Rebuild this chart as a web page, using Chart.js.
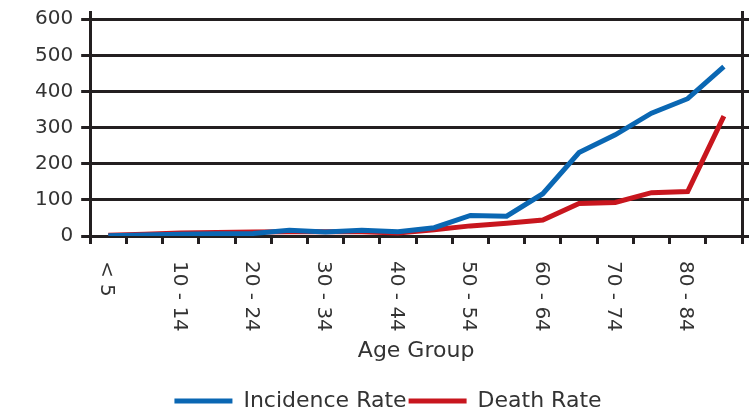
<!DOCTYPE html>
<html>
<head>
<meta charset="utf-8">
<script src="https://cdn.jsdelivr.net/npm/chart.js@4"></script>
<style>
  html, body { margin: 0; padding: 0; background: #fff; }
  #wrap { width: 756px; height: 414px; }
</style>
</head>
<body>
<div id="wrap"><canvas id="myChart"></canvas></div>
<script>
'use strict';

let ageGroups = ['< 5', '5 - 9', '10 - 14', '15 - 19', '20 - 24', '25 - 29', '30 - 34', '35 - 39', '40 - 44',
    '45 - 49', '50 - 54', '55 - 59', '60 - 64', '65 - 69', '70 - 74', '75 - 79', '80 - 84', '85+'];
let incidenceRate = [1, 3, 5, 6, 7, 16, 11, 16, 12, 23, 57, 55, 117, 231, 280, 340, 380, 469];
let deathRate = [2, 5, 8, 10, 11, 12, 12, 12, 8, 17, 28, 35, 44, 90, 93, 120, 123, 332];
let yTicks = [0, 100, 200, 300, 400, 500, 600];

let blue = '#0a67b3';
let red = '#c8161e';
let ink = '#231f20';
let font = 'DejaVu Sans';

// x labels are drawn clockwise (top to bottom), chart.js only turns them the other way
const downLabels = {
    id: 'downLabels',
    afterDraw(chart) {
        let sx = chart.scales.x;
        let ctx = chart.ctx;
        ctx.save();
        ctx.font = '20px "' + font + '"';
        ctx.fillStyle = '#333';
        ctx.textAlign = 'left';
        ctx.textBaseline = 'middle';
        for (let i = 0; i < sx.ticks.length; i++) {
            let text = sx.ticks[i].label;
            if (!text) continue;
            ctx.save();
            ctx.translate(sx.getPixelForTick(i) - 2, sx.top + 8 + 17);
            ctx.rotate(Math.PI / 2);
            ctx.fillText(text, 0, 0);
            ctx.restore();
        }
        ctx.restore();
    }
};

const data = {
    labels: ageGroups,
    datasets: [{
        label: 'Incidence Rate',
        data: incidenceRate,
        borderColor: blue,
        backgroundColor: blue,
        borderWidth: 5,
        pointRadius: 0,
        tension: 0
    }, {
        label: 'Death Rate',
        data: deathRate,
        borderColor: red,
        backgroundColor: red,
        borderWidth: 5,
        pointRadius: 0,
        tension: 0
    }]
};

const keepTicks = (scale) => {
    scale.ticks = yTicks.map(v => ({ value: v }));
};
const noTopPad = (scale) => {
    scale.paddingTop = 0;
};

const config = {
    type: 'line',
    data,
    options: {
        responsive: true,
        maintainAspectRatio: false,
        animation: false,
        layout: { padding: { top: 12, left: 27, right: 7, bottom: -8 } },
        scales: {
            x: {
                offset: true,
                afterFit: (scale) => {
                    scale.height = 152;
                    scale.paddingLeft = 0;
                    scale.paddingRight = 0;
                },
                grid: {
                    offset: true,
                    drawOnChartArea: false,
                    drawTicks: true,
                    tickLength: 8,
                    tickWidth: 3,
                    tickColor: ink
                },
                border: { display: true, color: ink, width: 3 },
                ticks: {
                    autoSkip: false,
                    minRotation: 90,
                    maxRotation: 90,
                    padding: 12,
                    color: 'rgba(0,0,0,0)',
                    font: { family: font, size: 20 },
                    callback: (v, i) => (i % 2 === 0 ? ageGroups[i] : '')
                },
                title: {
                    display: true,
                    text: 'Age Group',
                    color: '#333',
                    font: { family: font, size: 22 },
                    padding: { top: 0, bottom: 24 }
                }
            },
            y: {
                min: 0,
                max: 620,
                afterBuildTicks: keepTicks,
                afterFit: noTopPad,
                grid: {
                    color: ink,
                    lineWidth: 3,
                    tickLength: 9
                },
                border: { display: true, color: ink, width: 3 },
                ticks: {
                    color: '#333',
                    padding: 8,
                    font: { family: font, size: 20 }
                }
            },
            y2: {
                position: 'right',
                min: 0,
                max: 620,
                afterBuildTicks: keepTicks,
                afterFit: noTopPad,
                grid: {
                    drawOnChartArea: false,
                    color: ink,
                    lineWidth: 3,
                    tickLength: 7
                },
                border: { display: true, color: ink, width: 3 },
                ticks: { display: false, padding: 0 }
            }
        },
        plugins: {
            legend: {
                position: 'bottom',
                labels: {
                    boxWidth: 58,
                    boxHeight: 5,
                    padding: 2,
                    color: '#333',
                    font: { family: font, size: 22, lineHeight: 1 },
                    generateLabels: (chart) => Chart.defaults.plugins.legend.labels.generateLabels(chart)
                        .map(l => Object.assign(l, { lineWidth: 0 }))
                }
            },
            tooltip: { enabled: false }
        }
    },
    plugins: [downLabels]
};

var myChart = new Chart(document.getElementById('myChart'), config);
</script>
</body>
</html>
